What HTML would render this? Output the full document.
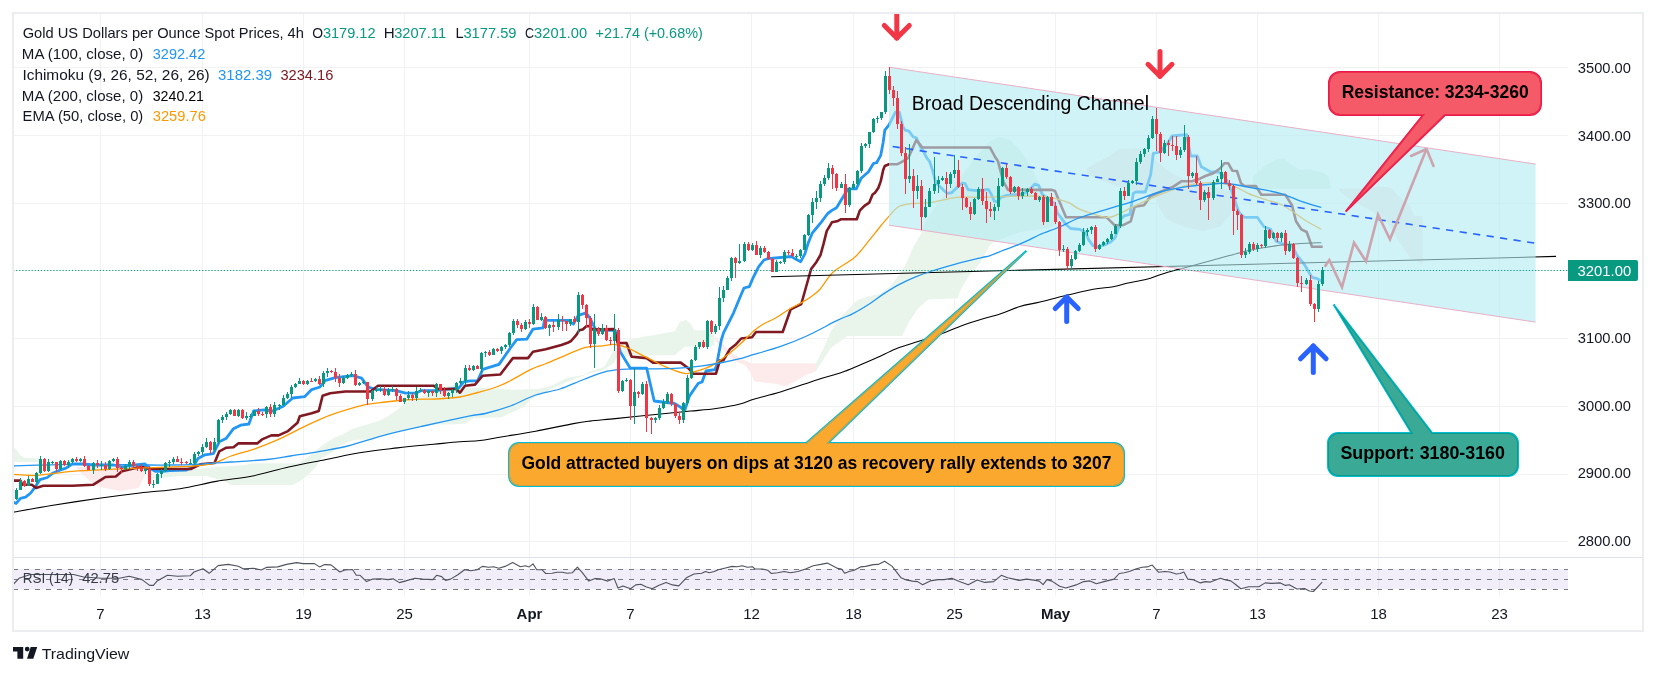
<!DOCTYPE html>
<html><head><meta charset="utf-8"><style>
html,body{margin:0;padding:0;background:#fff;width:1656px;height:675px;overflow:hidden}
svg{display:block;will-change:transform}
text{font-family:"Liberation Sans",sans-serif}
</style></head><body>
<svg width="1656" height="675" viewBox="0 0 1656 675">
<defs>
<clipPath id="mp"><rect x="13" y="13" width="1555" height="544"/></clipPath>
<clipPath id="rp"><rect x="13" y="558" width="1555" height="37"/></clipPath>
</defs>
<rect width="1656" height="675" fill="#fff"/>

<g stroke="#F2F2F3" stroke-width="1"><line x1="100.5" y1="13" x2="100.5" y2="595.5"/><line x1="202.5" y1="13" x2="202.5" y2="595.5"/><line x1="303.5" y1="13" x2="303.5" y2="595.5"/><line x1="404.5" y1="13" x2="404.5" y2="595.5"/><line x1="529.5" y1="13" x2="529.5" y2="595.5"/><line x1="630.5" y1="13" x2="630.5" y2="595.5"/><line x1="751.5" y1="13" x2="751.5" y2="595.5"/><line x1="853.5" y1="13" x2="853.5" y2="595.5"/><line x1="954.5" y1="13" x2="954.5" y2="595.5"/><line x1="1055.5" y1="13" x2="1055.5" y2="595.5"/><line x1="1156.5" y1="13" x2="1156.5" y2="595.5"/><line x1="1257.5" y1="13" x2="1257.5" y2="595.5"/><line x1="1378.5" y1="13" x2="1378.5" y2="595.5"/><line x1="1499.5" y1="13" x2="1499.5" y2="595.5"/><line x1="13" y1="67.5" x2="1568" y2="67.5"/><line x1="13" y1="135.5" x2="1568" y2="135.5"/><line x1="13" y1="203.5" x2="1568" y2="203.5"/><line x1="13" y1="270.5" x2="1568" y2="270.5"/><line x1="13" y1="338.5" x2="1568" y2="338.5"/><line x1="13" y1="406.5" x2="1568" y2="406.5"/><line x1="13" y1="474.5" x2="1568" y2="474.5"/><line x1="13" y1="541.5" x2="1568" y2="541.5"/></g>
<g clip-path="url(#mp)">
<polygon points="13.0,446.7 16.0,449.0 20.4,455.6 25.0,457.8 39.6,458.5 39.6,462.0 13.0,462.0" fill="#E9F5EB"/>
<polygon points="76.0,467.0 145.0,467.0 145.0,475.0 138.6,487.9 120.0,491.0 99.0,486.8 93.0,483.7 80.0,472.0" fill="#FDEBEB"/>
<polygon points="150.0,476.0 180.0,470.6 198.0,468.8 216.0,467.0 245.0,465.0 252.0,463.3 298.0,463.3 307.0,458.0 318.0,448.8 325.0,443.4 334.0,438.0 343.0,434.3 352.0,428.9 361.0,426.2 370.0,423.5 379.0,420.8 388.0,416.2 397.0,409.9 408.9,401.1 420.4,396.7 426.7,394.0 440.0,391.3 447.1,386.4 453.3,385.1 462.2,387.8 480.0,387.8 513.0,389.8 538.0,389.0 552.0,385.4 566.7,378.0 584.5,374.7 590.0,371.6 604.0,366.9 613.7,350.3 623.0,342.0 631.5,339.6 643.0,336.7 655.0,334.9 675.0,331.3 680.0,321.9 686.0,320.1 691.0,324.2 694.3,330.2 714.5,330.7 714.5,345.6 685.0,346.7 675.0,355.0 630.0,356.0 617.0,357.4 613.7,363.3 607.8,367.0 602.0,370.5 590.0,373.0 567.0,382.0 545.0,392.0 531.0,399.6 524.0,406.7 501.0,417.4 473.5,418.0 466.0,423.5 451.7,424.4 433.6,424.4 415.5,427.1 397.4,431.6 379.3,436.2 370.2,439.8 355.7,439.8 346.7,442.5 337.6,447.0 332.2,452.5 321.3,458.0 315.9,467.0 306.8,476.0 299.6,481.4 292.3,485.0 230.7,485.0 225.3,481.4 207.0,476.0 180.0,476.0 150.0,479.0" fill="#E9F5EB"/>
<polygon points="715.0,336.0 730.0,352.0 740.0,358.0 751.0,363.3 816.0,363.3 816.0,371.0 807.0,374.5 795.0,381.6 785.0,386.4 777.0,384.0 766.0,382.8 754.5,381.6 750.0,372.0 745.0,365.0 735.0,361.0 725.0,352.0 715.0,340.0" fill="#FDEBEB"/>
<polygon points="816.0,363.3 823.7,348.0 830.8,331.4 842.7,314.8 856.9,300.6 871.0,295.8 880.6,293.5 890.0,286.4 899.5,274.5 906.6,262.7 913.7,246.0 920.9,234.2 925.0,222.0 940.0,200.0 960.0,178.0 975.0,158.0 990.0,141.0 999.0,137.0 1010.0,140.0 1020.0,150.0 1030.0,165.0 1040.0,185.0 1048.0,205.0 1060.0,222.0 1050.0,228.0 1020.0,232.0 994.3,241.3 989.6,246.0 980.0,262.7 968.2,276.9 961.1,288.7 957.6,298.2 928.0,299.4 918.5,307.7 909.0,321.9 901.9,336.1 847.4,336.1 830.8,348.0 816.0,371.0" fill="#E9F5EB"/>
<polygon points="1087.0,168.0 1110.0,155.6 1119.0,149.3 1140.0,148.4 1149.0,151.0 1156.0,161.0 1167.0,170.0 1185.0,180.0 1200.0,185.0 1220.0,188.0 1231.0,191.0 1231.0,214.0 1220.0,226.7 1202.0,231.0 1184.0,226.7 1167.0,219.6 1160.0,209.0 1156.0,198.0 1149.0,191.0 1131.0,191.0 1110.0,184.0 1095.0,178.0 1087.0,173.0" fill="#FDEBEB"/>
<polygon points="1253.0,177.0 1262.7,167.4 1274.5,160.3 1284.0,157.9 1291.0,165.0 1300.6,169.8 1310.0,169.8 1321.9,172.1 1329.0,176.9 1331.4,188.7 1253.0,188.7" fill="#E9F5EB"/>
<polygon points="1338.9,188.5 1360.0,188.5 1379.4,186.6 1391.0,187.6 1396.7,194.3 1402.5,200.1 1410.2,205.9 1414.0,215.5 1422.7,216.5 1422.7,263.7 1410.0,257.9 1402.5,246.3 1394.8,234.8 1387.0,221.3 1373.6,211.7 1362.0,205.9 1348.5,198.2 1338.9,190.5" fill="#FDEBEB"/>
<polyline points="13.0,502.4 16.2,503.4 20.4,498.3 25.6,497.2 30.7,493.0 36.0,485.8 40.0,479.6 47.3,477.5 52.5,473.4 59.8,470.2 66.0,468.2 72.2,464.0 82.6,464.0 93.0,465.0 103.4,465.0 113.7,465.0 122.0,467.0 126.0,466.0 144.9,464.0 148.0,467.0 155.2,471.3 163.5,471.3 170.0,470.5 186.0,470.2 193.2,466.7 198.0,458.4 205.0,454.8 213.3,453.6 219.3,441.8 226.4,438.2 233.5,428.7 240.6,425.2 248.9,424.0 253.6,411.0 264.3,409.8 272.6,411.0 283.2,406.2 292.7,398.0 304.6,396.7 311.7,389.6 320.0,387.0 325.0,380.6 335.2,377.6 352.8,375.6 361.6,378.1 368.0,387.0 375.5,389.4 395.7,390.7 405.7,393.2 415.8,393.2 420.9,390.7 436.0,390.7 446.0,389.4 458.7,388.2 463.7,381.9 470.0,380.8 477.6,380.8 482.7,369.4 499.0,364.4 510.4,348.0 516.7,339.7 526.8,339.2 533.0,329.1 543.1,327.9 544.4,320.3 568.3,320.3 573.4,324.1 578.4,315.3 586.0,312.8 589.8,317.8 596.0,330.4 615.2,330.4 620.2,351.8 630.3,368.2 646.7,368.2 654.2,401.0 674.4,403.5 680.7,407.2 684.5,411.0 689.5,395.9 698.3,383.3 702.1,382.0 706.0,371.0 714.8,369.6 716.5,366.0 718.0,357.8 721.3,340.0 723.5,332.9 733.6,312.8 740.0,297.3 744.0,288.0 749.3,286.7 753.3,277.3 758.7,266.7 764.0,260.0 768.0,258.7 791.4,256.5 795.6,259.1 800.7,261.7 804.9,253.9 808.0,243.6 812.2,233.2 817.3,227.0 821.5,221.8 827.7,213.5 831.9,210.4 836.5,207.8 838.1,205.2 841.2,200.0 848.1,188.8 856.3,188.8 861.2,178.2 868.5,171.7 873.4,163.5 876.6,162.7 880.7,155.4 883.2,142.3 884.8,130.1 888.9,125.2 895.4,112.2 899.4,112.2 902.7,126.1 905.1,130.1 908.9,131.1 913.3,137.0 916.3,137.8 920.7,147.4 923.7,151.9 926.7,157.8 929.6,161.5 932.6,170.4 935.6,182.2 938.5,185.2 944.4,191.1 947.4,193.3 951.9,192.6 957.8,186.7 962.2,183.0 965.2,183.7 968.1,189.6 974.1,190.4 980.0,190.4 984.0,190.0 988.3,189.3 991.3,194.4 994.3,201.1 997.2,201.9 1000.9,197.4 1007.6,195.2 1019.4,194.4 1025.4,193.0 1031.3,187.8 1035.0,184.1 1038.7,185.6 1042.4,194.4 1046.1,197.4 1050.6,201.1 1054.4,203.3 1057.4,213.0 1061.9,218.9 1066.3,224.8 1070.7,228.5 1079.6,229.3 1085.6,232.2 1088.5,239.6 1093.0,245.6 1097.4,247.0 1101.9,245.6 1106.3,244.1 1110.7,241.9 1115.2,237.4 1118.1,229.3 1121.1,218.9 1124.1,215.9 1130.0,214.4 1133.3,193.3 1136.0,192.0 1145.3,192.0 1150.7,174.7 1153.3,153.3 1160.0,152.0 1168.0,142.7 1172.0,136.0 1186.7,134.7 1190.7,156.0 1197.3,156.0 1201.3,166.7 1210.7,172.0 1218.7,172.0 1225.3,177.3 1232.0,192.0 1238.7,212.0 1244.0,217.3 1257.3,217.3 1264.0,226.7 1270.7,229.3 1276.0,241.3 1282.7,244.0 1292.0,245.3 1297.3,256.0 1304.0,264.0 1312.0,277.3 1317.3,278.7 1322.0,281.3" fill="none" stroke="#2196F3" stroke-width="2.8" stroke-linejoin="round"/>
<polyline points="13.0,480.6 20.4,480.6 22.4,484.8 31.8,484.8 36.0,487.9 43.2,485.8 72.2,485.8 93.0,484.8 101.3,479.6 105.4,477.0 115.8,476.5 122.0,471.3 134.5,468.2 142.8,467.1 148.0,468.8 190.8,469.0 200.3,464.3 214.5,463.0 219.3,451.3 226.4,447.7 233.5,447.2 238.2,443.4 257.2,443.4 262.0,439.4 271.4,435.4 278.5,435.4 288.0,431.1 297.5,422.8 299.8,416.2 311.7,413.3 318.8,410.9 322.6,395.7 330.2,393.2 345.3,391.5 370.5,391.5 378.0,385.7 433.5,385.7 438.5,389.0 456.1,389.0 460.0,392.7 465.0,385.8 475.0,384.6 482.7,375.7 500.3,374.5 512.9,358.1 528.0,358.1 533.0,351.8 545.7,349.3 561.4,345.0 567.6,342.8 571.1,341.0 576.4,334.8 579.1,330.3 582.7,329.4 586.3,326.3 590.0,326.0 592.0,329.5 614.0,329.1 617.7,343.0 626.5,343.0 631.6,356.8 646.7,358.1 653.0,362.6 680.7,362.6 688.3,368.2 693.3,373.7 716.0,373.7 719.8,360.6 723.5,360.1 729.8,349.3 736.1,344.2 741.2,338.5 752.0,337.3 756.0,332.0 782.7,332.0 790.7,309.3 801.3,304.0 811.1,269.0 816.3,262.2 820.5,255.0 823.6,243.6 826.7,231.1 831.9,222.3 837.0,221.3 841.2,219.2 856.8,219.2 859.9,210.4 864.4,205.9 869.3,202.6 872.6,194.5 875.0,192.8 878.3,188.0 880.7,181.4 883.2,170.0 884.8,166.0 888.9,164.3 897.0,164.3 901.9,161.9 908.4,157.8 916.3,140.0 922.2,147.4 990.0,147.5 995.3,157.3 998.0,161.3 1003.3,181.3 1008.0,189.9 1052.0,189.9 1055.0,191.0 1066.0,217.3 1106.7,217.3 1114.7,225.3 1122.7,225.3 1130.7,221.3 1134.7,206.7 1144.0,205.3 1150.7,196.0 1160.0,192.0 1173.3,186.7 1181.3,181.3 1192.0,181.3 1200.0,178.7 1205.3,176.0 1213.3,173.3 1220.0,168.5 1224.3,163.3 1228.3,163.3 1232.3,170.7 1237.0,171.0 1241.0,183.3 1244.3,186.0 1256.0,186.1 1261.3,194.7 1285.3,194.7 1292.0,205.3 1296.0,221.3 1301.3,229.3 1306.7,232.0 1312.0,246.7 1322.7,246.7" fill="none" stroke="#801922" stroke-width="2.6" stroke-linejoin="round"/>
<path d="M13.0,474.4 C17.0,474.6 27.2,475.9 37.0,475.4 C46.8,474.9 59.2,472.3 72.0,471.3 C84.8,470.3 102.6,469.7 113.7,469.2 C124.8,468.7 129.2,468.6 138.6,468.2 C148.0,467.8 160.9,467.4 170.0,467.0 C179.1,466.6 185.8,466.7 193.2,466.0 C200.6,465.3 208.2,464.7 214.5,463.0 C220.8,461.3 224.3,458.4 231.0,456.0 C237.7,453.6 246.9,451.7 254.8,448.9 C262.7,446.1 270.6,442.9 278.5,439.4 C286.4,435.8 295.3,431.0 302.2,427.6 C309.1,424.2 314.5,421.7 320.0,419.3 C325.5,416.9 328.5,415.6 335.2,413.4 C341.9,411.1 352.0,407.7 360.4,405.8 C368.8,403.9 377.2,403.1 385.6,402.0 C394.0,400.9 402.4,400.0 410.8,399.5 C419.2,399.0 427.8,399.4 436.0,399.0 C444.2,398.6 453.0,398.1 460.0,397.0 C467.0,395.9 472.0,394.1 477.8,392.5 C483.6,390.9 489.7,389.4 495.0,387.5 C500.3,385.6 503.8,384.0 509.8,381.0 C515.8,378.0 525.1,372.2 531.0,369.4 C536.9,366.6 540.5,365.8 545.0,364.0 C549.5,362.2 551.2,361.4 557.8,358.7 C564.4,356.0 577.1,349.8 584.5,347.7 C591.9,345.6 597.3,346.4 602.3,345.9 C607.3,345.4 610.5,344.1 614.7,344.5 C619.0,344.9 623.5,346.4 627.8,348.0 C632.1,349.6 636.2,352.2 640.4,354.3 C644.6,356.4 648.8,358.5 653.0,360.6 C657.2,362.7 660.6,364.8 665.6,366.9 C670.6,369.0 679.0,372.2 683.2,373.2 C687.4,374.2 687.0,373.5 690.8,372.7 C694.6,371.9 701.8,369.8 706.0,368.2 C710.2,366.6 711.8,365.8 716.0,363.1 C720.2,360.4 727.0,355.1 731.0,352.0 C735.0,348.9 737.0,346.9 740.0,344.2 C743.0,341.5 746.7,337.9 748.9,335.8 C751.1,333.7 751.1,333.2 753.3,331.3 C755.5,329.4 758.5,326.9 762.2,324.7 C765.9,322.5 771.3,320.4 775.6,318.0 C779.9,315.6 783.9,312.4 788.0,310.0 C792.1,307.6 796.3,305.6 800.0,303.5 C803.7,301.4 806.7,299.9 810.0,297.5 C813.3,295.1 816.1,293.6 820.0,289.3 C823.9,285.1 827.5,277.3 833.3,272.0 C839.1,266.7 848.8,262.5 854.7,257.3 C860.6,252.1 864.6,245.9 868.9,240.7 C873.2,235.5 877.2,230.2 880.7,226.0 C884.2,221.8 886.6,218.8 889.6,215.6 C892.6,212.4 895.0,208.7 898.5,206.7 C902.0,204.7 905.1,204.4 910.4,203.7 C915.6,203.0 922.3,203.8 930.0,202.7 C937.7,201.6 947.8,198.2 956.7,197.3 C965.6,196.4 972.2,197.5 983.3,197.3 C994.4,197.1 1012.2,196.0 1023.3,196.0 C1034.4,196.0 1042.4,196.2 1050.0,197.3 C1057.6,198.4 1063.7,200.7 1068.7,202.7 C1073.7,204.7 1073.7,206.9 1080.0,209.3 C1086.3,211.7 1100.0,216.6 1106.7,217.3 C1113.4,218.0 1115.6,215.1 1120.0,213.3 C1124.4,211.5 1126.6,209.8 1133.3,206.7 C1140.0,203.6 1151.1,198.3 1160.0,194.7 C1168.9,191.1 1177.8,187.3 1186.7,185.3 C1195.6,183.3 1205.3,182.5 1213.3,182.7 C1221.3,182.9 1228.9,184.9 1234.7,186.7 C1240.5,188.5 1242.7,191.1 1248.0,193.3 C1253.3,195.5 1261.4,198.2 1266.7,200.0 C1272.0,201.8 1275.6,202.0 1280.0,204.0 C1284.4,206.0 1288.8,209.1 1293.3,212.0 C1297.8,214.9 1302.0,218.4 1306.7,221.3 C1311.4,224.2 1318.9,228.0 1321.3,229.3" fill="none" stroke="#FF9800" stroke-width="1.3" stroke-linejoin="round"/>
<path d="M13.1,512.2 C19.5,511.1 37.1,507.8 51.5,505.5 C65.8,503.2 84.5,500.4 99.2,498.3 C114.0,496.2 126.5,494.6 140.0,493.0 C153.5,491.4 167.3,490.6 180.0,488.7 C192.7,486.8 204.1,483.5 216.2,481.4 C228.3,479.3 240.4,478.4 252.5,476.0 C264.6,473.6 276.6,469.7 288.7,467.0 C300.8,464.3 312.9,462.1 325.0,459.7 C337.1,457.3 349.1,454.5 361.2,452.5 C373.3,450.5 385.3,449.3 397.4,447.9 C409.5,446.5 423.2,445.3 433.6,444.3 C444.0,443.3 452.3,442.4 460.0,441.8 C467.7,441.2 473.7,441.2 480.0,440.5 C486.3,439.8 488.5,439.1 497.8,437.5 C507.1,435.9 523.0,433.5 535.6,431.2 C548.2,428.9 564.3,425.3 573.4,423.6 C582.5,421.9 583.0,421.9 590.0,421.1 C597.0,420.3 606.8,419.5 615.2,418.6 C623.6,417.8 632.0,416.9 640.4,416.0 C648.8,415.1 657.2,414.3 665.6,413.5 C674.0,412.7 682.4,411.8 690.8,411.0 C699.2,410.2 707.8,409.7 716.0,408.5 C724.2,407.3 733.6,405.6 740.0,404.0 C746.4,402.4 747.7,401.0 754.6,399.0 C761.5,397.0 770.7,395.0 781.2,391.8 C791.7,388.6 807.4,382.9 817.4,379.7 C827.4,376.5 834.4,375.0 841.5,372.5 C848.6,370.0 854.0,367.4 860.0,364.9 C866.0,362.4 871.9,360.0 877.8,357.3 C883.7,354.6 889.7,351.3 895.6,348.9 C901.5,346.5 907.4,345.0 913.3,343.1 C919.2,341.2 925.8,339.1 931.1,337.3 C936.4,335.5 939.8,334.5 945.0,332.5 C950.2,330.5 956.3,327.7 962.3,325.5 C968.2,323.3 974.4,321.4 980.7,319.5 C987.0,317.6 993.5,316.2 1000.0,314.0 C1006.5,311.8 1013.3,308.5 1020.0,306.5 C1026.7,304.5 1032.2,303.9 1040.0,302.0 C1047.8,300.1 1057.8,297.4 1066.7,295.3 C1075.6,293.2 1085.5,290.7 1093.3,289.3 C1101.1,287.9 1107.7,287.7 1113.3,286.7 C1118.9,285.7 1121.1,284.5 1126.7,283.3 C1132.3,282.1 1141.2,280.7 1146.7,279.3 C1152.2,277.9 1155.6,276.1 1160.0,274.7 C1164.4,273.3 1168.8,271.9 1173.3,270.7 C1177.8,269.5 1180.0,269.1 1186.7,267.3 C1193.4,265.5 1204.4,262.4 1213.3,260.0 C1222.2,257.6 1233.3,254.4 1240.0,252.7 C1246.7,250.9 1246.6,250.7 1253.3,249.5 C1260.0,248.3 1271.1,246.4 1280.0,245.3 C1288.9,244.2 1299.8,243.6 1306.7,243.2 C1313.6,242.8 1318.9,242.8 1321.3,242.7" fill="none" stroke="#000" stroke-width="1.1" stroke-linejoin="round"/>
<line x1="771.1" y1="276.7" x2="1556" y2="256.4" stroke="#000" stroke-width="1.1"/>
<polygon points="889.0,67.2 1535.6,164.1 1535.6,322.1 889.0,225.2" fill="#B2EBF2" fill-opacity="0.62"/>
<line x1="889" y1="67.2" x2="1535.6" y2="164.1" stroke="#E9AFC6" stroke-width="1"/>
<line x1="889" y1="225.2" x2="1535.6" y2="322.1" stroke="#E9AFC6" stroke-width="1"/>
<line x1="889" y1="146" x2="1535.6" y2="243.2" stroke="#2962FF" stroke-width="1.6" stroke-dasharray="7.2 6.45" stroke-dashoffset="9.95"/>
<path d="M13.0,466.0 C22.8,465.7 49.7,464.6 72.0,464.4 C94.3,464.2 130.7,464.9 147.0,465.0 C163.3,465.1 161.9,465.1 170.0,465.0 C178.1,464.9 185.4,464.8 195.6,464.3 C205.8,463.8 219.2,462.8 231.0,462.0 C242.8,461.2 256.8,460.5 266.7,459.5 C276.6,458.5 281.5,457.4 290.4,456.0 C299.3,454.6 310.4,453.0 320.0,451.3 C329.6,449.6 336.9,448.8 347.8,446.0 C358.7,443.2 373.0,438.1 385.6,434.8 C398.2,431.5 409.3,429.1 423.4,426.0 C437.5,422.9 459.7,418.0 470.0,415.9 C480.3,413.8 478.5,415.1 485.2,413.5 C491.9,411.9 502.0,409.1 510.4,406.0 C518.8,402.9 527.3,397.8 535.6,395.0 C543.9,392.2 552.0,391.6 560.0,389.0 C568.0,386.4 575.8,382.5 583.7,379.5 C591.6,376.5 599.5,373.0 607.4,371.2 C615.3,369.4 623.1,369.3 631.0,368.9 C638.9,368.5 646.9,369.0 654.8,368.9 C662.7,368.8 670.6,368.7 678.5,368.2 C686.4,367.7 695.3,366.7 702.2,365.8 C709.1,364.9 713.7,364.2 720.0,363.0 C726.3,361.8 735.0,359.9 740.0,358.7 C745.0,357.5 743.3,357.6 750.0,355.6 C756.7,353.6 770.5,350.0 780.0,346.7 C789.5,343.4 797.1,340.4 806.7,336.0 C816.3,331.6 830.1,323.9 837.8,320.2 C845.5,316.5 847.7,316.3 852.9,313.6 C858.1,310.9 863.7,307.5 868.9,304.2 C874.1,300.9 878.8,296.9 884.0,293.6 C889.2,290.3 894.8,286.9 900.0,284.2 C905.2,281.5 909.9,279.3 915.0,277.2 C920.1,275.1 923.6,273.7 930.4,271.5 C937.1,269.3 947.1,266.4 955.5,264.1 C963.9,261.8 974.9,259.2 980.7,257.8 C986.5,256.4 986.3,256.9 990.1,255.6 C993.9,254.3 999.1,252.0 1003.7,250.2 C1008.3,248.4 1013.9,246.5 1017.9,244.9 C1021.9,243.3 1023.7,242.4 1027.4,240.7 C1031.1,239.0 1034.7,236.8 1040.0,234.5 C1045.3,232.2 1052.7,229.8 1059.4,227.0 C1066.1,224.2 1072.1,220.4 1080.0,217.5 C1087.9,214.6 1097.8,212.0 1106.7,209.3 C1115.6,206.6 1124.4,204.2 1133.3,201.3 C1142.2,198.4 1151.1,194.4 1160.0,192.0 C1168.9,189.6 1177.8,188.0 1186.7,186.7 C1195.6,185.4 1206.6,184.5 1213.3,184.0 C1220.0,183.5 1220.0,182.8 1226.7,183.5 C1233.4,184.2 1244.4,186.4 1253.3,188.0 C1262.2,189.6 1272.0,191.1 1280.0,193.3 C1288.0,195.5 1294.4,198.9 1301.3,201.3 C1308.2,203.7 1318.0,206.5 1321.3,207.5" fill="none" stroke="#2196F3" stroke-width="1.3" stroke-linejoin="round"/>
<rect x="16" y="488" width="1" height="12" fill="#089981"/><rect x="15" y="490" width="3" height="9" fill="#089981"/><rect x="20" y="478" width="1" height="12" fill="#089981"/><rect x="19" y="481" width="3" height="9" fill="#089981"/><rect x="24" y="480" width="1" height="7" fill="#F23645"/><rect x="23" y="481" width="3" height="5" fill="#F23645"/><rect x="28" y="476" width="1" height="10" fill="#089981"/><rect x="27" y="479" width="3" height="7" fill="#089981"/><rect x="32" y="478" width="1" height="4" fill="#F23645"/><rect x="31" y="479" width="3" height="3" fill="#F23645"/><rect x="36" y="472" width="1" height="13" fill="#089981"/><rect x="35" y="473" width="3" height="9" fill="#089981"/><rect x="40" y="456" width="1" height="18" fill="#089981"/><rect x="39" y="459" width="3" height="14" fill="#089981"/><rect x="44" y="458" width="1" height="14" fill="#F23645"/><rect x="43" y="459" width="3" height="12" fill="#F23645"/><rect x="48" y="459" width="1" height="13" fill="#089981"/><rect x="47" y="462" width="3" height="9" fill="#089981"/><rect x="52" y="461" width="1" height="3" fill="#089981"/><rect x="51" y="462" width="3" height="1" fill="#089981"/><rect x="56" y="462" width="1" height="10" fill="#F23645"/><rect x="55" y="462" width="3" height="7" fill="#F23645"/><rect x="60" y="460" width="1" height="10" fill="#089981"/><rect x="59" y="461" width="3" height="8" fill="#089981"/><rect x="64" y="460" width="1" height="6" fill="#F23645"/><rect x="63" y="461" width="3" height="4" fill="#F23645"/><rect x="68" y="460" width="1" height="8" fill="#089981"/><rect x="67" y="462" width="3" height="3" fill="#089981"/><rect x="72" y="458" width="1" height="5" fill="#089981"/><rect x="71" y="459" width="3" height="3" fill="#089981"/><rect x="76" y="457" width="1" height="5" fill="#F23645"/><rect x="75" y="459" width="3" height="2" fill="#F23645"/><rect x="80" y="458" width="1" height="4" fill="#089981"/><rect x="79" y="459" width="3" height="2" fill="#089981"/><rect x="84" y="456" width="1" height="11" fill="#F23645"/><rect x="83" y="459" width="3" height="7" fill="#F23645"/><rect x="88" y="465" width="1" height="5" fill="#F23645"/><rect x="87" y="466" width="3" height="4" fill="#F23645"/><rect x="93" y="462" width="1" height="12" fill="#089981"/><rect x="92" y="463" width="3" height="7" fill="#089981"/><rect x="97" y="460" width="1" height="8" fill="#F23645"/><rect x="96" y="463" width="3" height="2" fill="#F23645"/><rect x="101" y="461" width="1" height="9" fill="#089981"/><rect x="100" y="465" width="3" height="1" fill="#089981"/><rect x="105" y="462" width="1" height="9" fill="#F23645"/><rect x="104" y="465" width="3" height="4" fill="#F23645"/><rect x="109" y="460" width="1" height="10" fill="#089981"/><rect x="108" y="461" width="3" height="8" fill="#089981"/><rect x="113" y="458" width="1" height="4" fill="#089981"/><rect x="112" y="459" width="3" height="2" fill="#089981"/><rect x="117" y="457" width="1" height="15" fill="#F23645"/><rect x="116" y="459" width="3" height="9" fill="#F23645"/><rect x="121" y="466" width="1" height="7" fill="#F23645"/><rect x="120" y="468" width="3" height="1" fill="#F23645"/><rect x="125" y="464" width="1" height="6" fill="#089981"/><rect x="124" y="466" width="3" height="3" fill="#089981"/><rect x="129" y="460" width="1" height="9" fill="#089981"/><rect x="128" y="462" width="3" height="4" fill="#089981"/><rect x="133" y="460" width="1" height="8" fill="#F23645"/><rect x="132" y="462" width="3" height="4" fill="#F23645"/><rect x="137" y="465" width="1" height="6" fill="#F23645"/><rect x="136" y="466" width="3" height="1" fill="#F23645"/><rect x="141" y="464" width="1" height="8" fill="#F23645"/><rect x="140" y="467" width="3" height="4" fill="#F23645"/><rect x="145" y="468" width="1" height="6" fill="#089981"/><rect x="144" y="469" width="3" height="2" fill="#089981"/><rect x="149" y="466" width="1" height="20" fill="#F23645"/><rect x="148" y="469" width="3" height="15" fill="#F23645"/><rect x="153" y="480" width="1" height="8" fill="#089981"/><rect x="152" y="484" width="3" height="1" fill="#089981"/><rect x="157" y="473" width="1" height="11" fill="#089981"/><rect x="156" y="474" width="3" height="10" fill="#089981"/><rect x="161" y="469" width="1" height="9" fill="#089981"/><rect x="160" y="471" width="3" height="3" fill="#089981"/><rect x="165" y="462" width="1" height="10" fill="#089981"/><rect x="164" y="463" width="3" height="8" fill="#089981"/><rect x="169" y="460" width="1" height="7" fill="#089981"/><rect x="168" y="462" width="3" height="1" fill="#089981"/><rect x="173" y="457" width="1" height="7" fill="#089981"/><rect x="172" y="459" width="3" height="3" fill="#089981"/><rect x="177" y="456" width="1" height="6" fill="#F23645"/><rect x="176" y="459" width="3" height="3" fill="#F23645"/><rect x="181" y="458" width="1" height="7" fill="#F23645"/><rect x="180" y="462" width="3" height="1" fill="#F23645"/><rect x="186" y="461" width="1" height="3" fill="#F23645"/><rect x="185" y="462" width="3" height="1" fill="#F23645"/><rect x="190" y="459" width="1" height="5" fill="#089981"/><rect x="189" y="463" width="3" height="1" fill="#089981"/><rect x="194" y="452" width="1" height="13" fill="#089981"/><rect x="193" y="454" width="3" height="9" fill="#089981"/><rect x="198" y="451" width="1" height="5" fill="#089981"/><rect x="197" y="452" width="3" height="2" fill="#089981"/><rect x="202" y="444" width="1" height="11" fill="#089981"/><rect x="201" y="447" width="3" height="5" fill="#089981"/><rect x="206" y="438" width="1" height="10" fill="#089981"/><rect x="205" y="442" width="3" height="5" fill="#089981"/><rect x="210" y="441" width="1" height="13" fill="#F23645"/><rect x="209" y="442" width="3" height="8" fill="#F23645"/><rect x="214" y="438" width="1" height="14" fill="#089981"/><rect x="213" y="442" width="3" height="8" fill="#089981"/><rect x="218" y="419" width="1" height="25" fill="#089981"/><rect x="217" y="420" width="3" height="22" fill="#089981"/><rect x="222" y="415" width="1" height="8" fill="#089981"/><rect x="221" y="417" width="3" height="3" fill="#089981"/><rect x="226" y="412" width="1" height="8" fill="#089981"/><rect x="225" y="414" width="3" height="3" fill="#089981"/><rect x="230" y="409" width="1" height="6" fill="#089981"/><rect x="229" y="410" width="3" height="4" fill="#089981"/><rect x="234" y="409" width="1" height="7" fill="#F23645"/><rect x="233" y="410" width="3" height="6" fill="#F23645"/><rect x="238" y="409" width="1" height="8" fill="#089981"/><rect x="237" y="410" width="3" height="6" fill="#089981"/><rect x="242" y="409" width="1" height="10" fill="#F23645"/><rect x="241" y="410" width="3" height="8" fill="#F23645"/><rect x="246" y="412" width="1" height="8" fill="#089981"/><rect x="245" y="416" width="3" height="2" fill="#089981"/><rect x="250" y="414" width="1" height="4" fill="#089981"/><rect x="249" y="416" width="3" height="1" fill="#089981"/><rect x="254" y="410" width="1" height="6" fill="#089981"/><rect x="253" y="411" width="3" height="5" fill="#089981"/><rect x="258" y="408" width="1" height="8" fill="#F23645"/><rect x="257" y="411" width="3" height="3" fill="#F23645"/><rect x="262" y="412" width="1" height="4" fill="#F23645"/><rect x="261" y="414" width="3" height="1" fill="#F23645"/><rect x="266" y="406" width="1" height="12" fill="#089981"/><rect x="265" y="407" width="3" height="7" fill="#089981"/><rect x="270" y="404" width="1" height="13" fill="#F23645"/><rect x="269" y="407" width="3" height="7" fill="#F23645"/><rect x="274" y="402" width="1" height="15" fill="#089981"/><rect x="273" y="405" width="3" height="9" fill="#089981"/><rect x="279" y="404" width="1" height="6" fill="#089981"/><rect x="278" y="405" width="3" height="1" fill="#089981"/><rect x="283" y="395" width="1" height="11" fill="#089981"/><rect x="282" y="398" width="3" height="7" fill="#089981"/><rect x="287" y="392" width="1" height="7" fill="#089981"/><rect x="286" y="394" width="3" height="4" fill="#089981"/><rect x="291" y="385" width="1" height="13" fill="#089981"/><rect x="290" y="387" width="3" height="7" fill="#089981"/><rect x="295" y="383" width="1" height="5" fill="#089981"/><rect x="294" y="384" width="3" height="3" fill="#089981"/><rect x="299" y="378" width="1" height="6" fill="#089981"/><rect x="298" y="381" width="3" height="3" fill="#089981"/><rect x="303" y="380" width="1" height="5" fill="#F23645"/><rect x="302" y="381" width="3" height="3" fill="#F23645"/><rect x="307" y="380" width="1" height="5" fill="#089981"/><rect x="306" y="381" width="3" height="3" fill="#089981"/><rect x="311" y="378" width="1" height="4" fill="#F23645"/><rect x="310" y="381" width="3" height="1" fill="#F23645"/><rect x="315" y="378" width="1" height="4" fill="#089981"/><rect x="314" y="379" width="3" height="2" fill="#089981"/><rect x="319" y="376" width="1" height="9" fill="#F23645"/><rect x="318" y="379" width="3" height="5" fill="#F23645"/><rect x="323" y="371" width="1" height="16" fill="#089981"/><rect x="322" y="373" width="3" height="11" fill="#089981"/><rect x="327" y="368" width="1" height="9" fill="#089981"/><rect x="326" y="371" width="3" height="2" fill="#089981"/><rect x="331" y="370" width="1" height="3" fill="#F23645"/><rect x="330" y="371" width="3" height="1" fill="#F23645"/><rect x="335" y="368" width="1" height="14" fill="#F23645"/><rect x="334" y="372" width="3" height="6" fill="#F23645"/><rect x="339" y="374" width="1" height="13" fill="#F23645"/><rect x="338" y="378" width="3" height="5" fill="#F23645"/><rect x="343" y="376" width="1" height="8" fill="#089981"/><rect x="342" y="378" width="3" height="5" fill="#089981"/><rect x="347" y="374" width="1" height="5" fill="#089981"/><rect x="346" y="375" width="3" height="3" fill="#089981"/><rect x="351" y="372" width="1" height="5" fill="#089981"/><rect x="350" y="374" width="3" height="1" fill="#089981"/><rect x="355" y="370" width="1" height="16" fill="#F23645"/><rect x="354" y="374" width="3" height="11" fill="#F23645"/><rect x="359" y="382" width="1" height="4" fill="#089981"/><rect x="358" y="383" width="3" height="2" fill="#089981"/><rect x="363" y="380" width="1" height="4" fill="#089981"/><rect x="362" y="382" width="3" height="1" fill="#089981"/><rect x="367" y="382" width="1" height="23" fill="#F23645"/><rect x="366" y="382" width="3" height="17" fill="#F23645"/><rect x="372" y="390" width="1" height="11" fill="#089981"/><rect x="371" y="391" width="3" height="8" fill="#089981"/><rect x="376" y="387" width="1" height="5" fill="#089981"/><rect x="375" y="390" width="3" height="1" fill="#089981"/><rect x="380" y="386" width="1" height="6" fill="#089981"/><rect x="379" y="389" width="3" height="1" fill="#089981"/><rect x="384" y="386" width="1" height="10" fill="#F23645"/><rect x="383" y="389" width="3" height="6" fill="#F23645"/><rect x="388" y="388" width="1" height="8" fill="#089981"/><rect x="387" y="390" width="3" height="5" fill="#089981"/><rect x="392" y="386" width="1" height="6" fill="#089981"/><rect x="391" y="389" width="3" height="1" fill="#089981"/><rect x="396" y="388" width="1" height="12" fill="#F23645"/><rect x="395" y="389" width="3" height="7" fill="#F23645"/><rect x="400" y="394" width="1" height="8" fill="#F23645"/><rect x="399" y="396" width="3" height="6" fill="#F23645"/><rect x="404" y="398" width="1" height="6" fill="#089981"/><rect x="403" y="398" width="3" height="4" fill="#089981"/><rect x="408" y="391" width="1" height="9" fill="#089981"/><rect x="407" y="395" width="3" height="3" fill="#089981"/><rect x="412" y="393" width="1" height="8" fill="#F23645"/><rect x="411" y="395" width="3" height="3" fill="#F23645"/><rect x="416" y="387" width="1" height="14" fill="#089981"/><rect x="415" y="391" width="3" height="7" fill="#089981"/><rect x="420" y="388" width="1" height="4" fill="#089981"/><rect x="419" y="390" width="3" height="1" fill="#089981"/><rect x="424" y="389" width="1" height="5" fill="#F23645"/><rect x="423" y="390" width="3" height="3" fill="#F23645"/><rect x="428" y="390" width="1" height="7" fill="#089981"/><rect x="427" y="391" width="3" height="2" fill="#089981"/><rect x="432" y="390" width="1" height="6" fill="#F23645"/><rect x="431" y="391" width="3" height="2" fill="#F23645"/><rect x="436" y="383" width="1" height="14" fill="#089981"/><rect x="435" y="384" width="3" height="9" fill="#089981"/><rect x="440" y="384" width="1" height="10" fill="#F23645"/><rect x="439" y="384" width="3" height="6" fill="#F23645"/><rect x="444" y="387" width="1" height="10" fill="#F23645"/><rect x="443" y="390" width="3" height="6" fill="#F23645"/><rect x="448" y="392" width="1" height="7" fill="#089981"/><rect x="447" y="393" width="3" height="3" fill="#089981"/><rect x="452" y="389" width="1" height="8" fill="#089981"/><rect x="451" y="390" width="3" height="3" fill="#089981"/><rect x="456" y="382" width="1" height="11" fill="#089981"/><rect x="455" y="383" width="3" height="7" fill="#089981"/><rect x="460" y="378" width="1" height="6" fill="#089981"/><rect x="459" y="381" width="3" height="2" fill="#089981"/><rect x="465" y="365" width="1" height="20" fill="#089981"/><rect x="464" y="368" width="3" height="13" fill="#089981"/><rect x="469" y="365" width="1" height="6" fill="#F23645"/><rect x="468" y="368" width="3" height="2" fill="#F23645"/><rect x="473" y="365" width="1" height="6" fill="#089981"/><rect x="472" y="366" width="3" height="4" fill="#089981"/><rect x="477" y="365" width="1" height="4" fill="#F23645"/><rect x="476" y="366" width="3" height="3" fill="#F23645"/><rect x="481" y="352" width="1" height="21" fill="#089981"/><rect x="480" y="353" width="3" height="16" fill="#089981"/><rect x="485" y="351" width="1" height="6" fill="#089981"/><rect x="484" y="352" width="3" height="1" fill="#089981"/><rect x="489" y="350" width="1" height="6" fill="#F23645"/><rect x="488" y="352" width="3" height="3" fill="#F23645"/><rect x="493" y="348" width="1" height="7" fill="#089981"/><rect x="492" y="349" width="3" height="6" fill="#089981"/><rect x="497" y="348" width="1" height="4" fill="#F23645"/><rect x="496" y="349" width="3" height="2" fill="#F23645"/><rect x="501" y="346" width="1" height="8" fill="#089981"/><rect x="500" y="347" width="3" height="4" fill="#089981"/><rect x="505" y="344" width="1" height="5" fill="#089981"/><rect x="504" y="345" width="3" height="2" fill="#089981"/><rect x="509" y="332" width="1" height="15" fill="#089981"/><rect x="508" y="333" width="3" height="12" fill="#089981"/><rect x="513" y="319" width="1" height="16" fill="#089981"/><rect x="512" y="321" width="3" height="12" fill="#089981"/><rect x="517" y="319" width="1" height="9" fill="#F23645"/><rect x="516" y="321" width="3" height="4" fill="#F23645"/><rect x="521" y="323" width="1" height="9" fill="#F23645"/><rect x="520" y="325" width="3" height="4" fill="#F23645"/><rect x="525" y="320" width="1" height="10" fill="#089981"/><rect x="524" y="322" width="3" height="7" fill="#089981"/><rect x="529" y="319" width="1" height="9" fill="#F23645"/><rect x="528" y="322" width="3" height="2" fill="#F23645"/><rect x="533" y="304" width="1" height="21" fill="#089981"/><rect x="532" y="307" width="3" height="17" fill="#089981"/><rect x="537" y="306" width="1" height="14" fill="#F23645"/><rect x="536" y="307" width="3" height="13" fill="#F23645"/><rect x="541" y="313" width="1" height="8" fill="#089981"/><rect x="540" y="317" width="3" height="3" fill="#089981"/><rect x="545" y="316" width="1" height="13" fill="#F23645"/><rect x="544" y="317" width="3" height="11" fill="#F23645"/><rect x="549" y="324" width="1" height="12" fill="#089981"/><rect x="548" y="325" width="3" height="3" fill="#089981"/><rect x="553" y="321" width="1" height="11" fill="#F23645"/><rect x="552" y="325" width="3" height="2" fill="#F23645"/><rect x="558" y="314" width="1" height="16" fill="#089981"/><rect x="557" y="320" width="3" height="7" fill="#089981"/><rect x="562" y="316" width="1" height="15" fill="#F23645"/><rect x="561" y="320" width="3" height="1" fill="#F23645"/><rect x="566" y="321" width="1" height="10" fill="#F23645"/><rect x="565" y="321" width="3" height="3" fill="#F23645"/><rect x="570" y="319" width="1" height="7" fill="#089981"/><rect x="569" y="319" width="3" height="5" fill="#089981"/><rect x="574" y="316" width="1" height="8" fill="#F23645"/><rect x="573" y="319" width="3" height="3" fill="#F23645"/><rect x="578" y="292" width="1" height="41" fill="#089981"/><rect x="577" y="295" width="3" height="27" fill="#089981"/><rect x="582" y="294" width="1" height="15" fill="#F23645"/><rect x="581" y="295" width="3" height="10" fill="#F23645"/><rect x="586" y="304" width="1" height="23" fill="#F23645"/><rect x="585" y="305" width="3" height="13" fill="#F23645"/><rect x="590" y="316" width="1" height="32" fill="#F23645"/><rect x="589" y="318" width="3" height="26" fill="#F23645"/><rect x="594" y="314" width="1" height="54" fill="#089981"/><rect x="593" y="329" width="3" height="15" fill="#089981"/><rect x="598" y="327" width="1" height="9" fill="#F23645"/><rect x="597" y="329" width="3" height="5" fill="#F23645"/><rect x="602" y="324" width="1" height="11" fill="#089981"/><rect x="601" y="328" width="3" height="6" fill="#089981"/><rect x="606" y="325" width="1" height="16" fill="#F23645"/><rect x="605" y="328" width="3" height="12" fill="#F23645"/><rect x="610" y="337" width="1" height="8" fill="#F23645"/><rect x="609" y="340" width="3" height="1" fill="#F23645"/><rect x="614" y="314" width="1" height="37" fill="#089981"/><rect x="613" y="330" width="3" height="11" fill="#089981"/><rect x="618" y="328" width="1" height="65" fill="#F23645"/><rect x="617" y="330" width="3" height="61" fill="#F23645"/><rect x="622" y="380" width="1" height="12" fill="#089981"/><rect x="621" y="381" width="3" height="10" fill="#089981"/><rect x="626" y="378" width="1" height="4" fill="#089981"/><rect x="625" y="380" width="3" height="1" fill="#089981"/><rect x="630" y="379" width="1" height="41" fill="#F23645"/><rect x="629" y="380" width="3" height="26" fill="#F23645"/><rect x="634" y="368" width="1" height="56" fill="#089981"/><rect x="633" y="392" width="3" height="14" fill="#089981"/><rect x="638" y="391" width="1" height="7" fill="#F23645"/><rect x="637" y="392" width="3" height="2" fill="#F23645"/><rect x="642" y="382" width="1" height="13" fill="#089981"/><rect x="641" y="384" width="3" height="10" fill="#089981"/><rect x="646" y="381" width="1" height="51" fill="#F23645"/><rect x="645" y="384" width="3" height="34" fill="#F23645"/><rect x="651" y="417" width="1" height="17" fill="#F23645"/><rect x="650" y="418" width="3" height="2" fill="#F23645"/><rect x="655" y="417" width="1" height="6" fill="#089981"/><rect x="654" y="418" width="3" height="2" fill="#089981"/><rect x="659" y="405" width="1" height="15" fill="#089981"/><rect x="658" y="408" width="3" height="10" fill="#089981"/><rect x="663" y="399" width="1" height="10" fill="#089981"/><rect x="662" y="402" width="3" height="6" fill="#089981"/><rect x="667" y="392" width="1" height="12" fill="#089981"/><rect x="666" y="394" width="3" height="8" fill="#089981"/><rect x="671" y="393" width="1" height="13" fill="#F23645"/><rect x="670" y="394" width="3" height="10" fill="#F23645"/><rect x="675" y="403" width="1" height="15" fill="#F23645"/><rect x="674" y="404" width="3" height="12" fill="#F23645"/><rect x="679" y="412" width="1" height="12" fill="#F23645"/><rect x="678" y="416" width="3" height="4" fill="#F23645"/><rect x="683" y="402" width="1" height="21" fill="#089981"/><rect x="682" y="403" width="3" height="17" fill="#089981"/><rect x="687" y="375" width="1" height="30" fill="#089981"/><rect x="686" y="378" width="3" height="25" fill="#089981"/><rect x="691" y="359" width="1" height="20" fill="#089981"/><rect x="690" y="360" width="3" height="18" fill="#089981"/><rect x="695" y="345" width="1" height="16" fill="#089981"/><rect x="694" y="347" width="3" height="13" fill="#089981"/><rect x="699" y="342" width="1" height="7" fill="#089981"/><rect x="698" y="342" width="3" height="5" fill="#089981"/><rect x="703" y="340" width="1" height="8" fill="#F23645"/><rect x="702" y="342" width="3" height="5" fill="#F23645"/><rect x="707" y="320" width="1" height="29" fill="#089981"/><rect x="706" y="321" width="3" height="26" fill="#089981"/><rect x="711" y="320" width="1" height="14" fill="#F23645"/><rect x="710" y="321" width="3" height="11" fill="#F23645"/><rect x="715" y="324" width="1" height="10" fill="#089981"/><rect x="714" y="326" width="3" height="6" fill="#089981"/><rect x="719" y="287" width="1" height="43" fill="#089981"/><rect x="718" y="298" width="3" height="28" fill="#089981"/><rect x="723" y="286" width="1" height="16" fill="#089981"/><rect x="722" y="290" width="3" height="8" fill="#089981"/><rect x="727" y="276" width="1" height="14" fill="#089981"/><rect x="726" y="278" width="3" height="12" fill="#089981"/><rect x="731" y="257" width="1" height="24" fill="#089981"/><rect x="730" y="258" width="3" height="20" fill="#089981"/><rect x="735" y="257" width="1" height="21" fill="#F23645"/><rect x="734" y="258" width="3" height="5" fill="#F23645"/><rect x="739" y="244" width="1" height="20" fill="#089981"/><rect x="738" y="261" width="3" height="2" fill="#089981"/><rect x="744" y="242" width="1" height="20" fill="#089981"/><rect x="743" y="244" width="3" height="17" fill="#089981"/><rect x="748" y="242" width="1" height="9" fill="#F23645"/><rect x="747" y="244" width="3" height="6" fill="#F23645"/><rect x="752" y="243" width="1" height="8" fill="#089981"/><rect x="751" y="245" width="3" height="5" fill="#089981"/><rect x="756" y="241" width="1" height="14" fill="#F23645"/><rect x="755" y="245" width="3" height="10" fill="#F23645"/><rect x="760" y="246" width="1" height="12" fill="#089981"/><rect x="759" y="248" width="3" height="7" fill="#089981"/><rect x="764" y="246" width="1" height="7" fill="#F23645"/><rect x="763" y="248" width="3" height="4" fill="#F23645"/><rect x="768" y="251" width="1" height="9" fill="#F23645"/><rect x="767" y="252" width="3" height="7" fill="#F23645"/><rect x="772" y="258" width="1" height="14" fill="#F23645"/><rect x="771" y="259" width="3" height="13" fill="#F23645"/><rect x="776" y="260" width="1" height="12" fill="#089981"/><rect x="775" y="262" width="3" height="10" fill="#089981"/><rect x="780" y="261" width="1" height="3" fill="#089981"/><rect x="779" y="262" width="3" height="1" fill="#089981"/><rect x="784" y="250" width="1" height="14" fill="#089981"/><rect x="783" y="252" width="3" height="10" fill="#089981"/><rect x="788" y="250" width="1" height="5" fill="#F23645"/><rect x="787" y="252" width="3" height="1" fill="#F23645"/><rect x="792" y="249" width="1" height="8" fill="#F23645"/><rect x="791" y="253" width="3" height="3" fill="#F23645"/><rect x="796" y="254" width="1" height="6" fill="#089981"/><rect x="795" y="256" width="3" height="1" fill="#089981"/><rect x="800" y="249" width="1" height="9" fill="#089981"/><rect x="799" y="250" width="3" height="6" fill="#089981"/><rect x="804" y="234" width="1" height="16" fill="#089981"/><rect x="803" y="235" width="3" height="15" fill="#089981"/><rect x="808" y="214" width="1" height="22" fill="#089981"/><rect x="807" y="215" width="3" height="20" fill="#089981"/><rect x="812" y="198" width="1" height="25" fill="#089981"/><rect x="811" y="202" width="3" height="13" fill="#089981"/><rect x="816" y="191" width="1" height="18" fill="#089981"/><rect x="815" y="198" width="3" height="4" fill="#089981"/><rect x="820" y="181" width="1" height="21" fill="#089981"/><rect x="819" y="184" width="3" height="14" fill="#089981"/><rect x="824" y="175" width="1" height="11" fill="#089981"/><rect x="823" y="178" width="3" height="6" fill="#089981"/><rect x="828" y="163" width="1" height="17" fill="#089981"/><rect x="827" y="168" width="3" height="10" fill="#089981"/><rect x="832" y="165" width="1" height="24" fill="#F23645"/><rect x="831" y="168" width="3" height="6" fill="#F23645"/><rect x="836" y="173" width="1" height="18" fill="#F23645"/><rect x="835" y="174" width="3" height="14" fill="#F23645"/><rect x="841" y="182" width="1" height="6" fill="#089981"/><rect x="840" y="184" width="3" height="4" fill="#089981"/><rect x="845" y="174" width="1" height="39" fill="#F23645"/><rect x="844" y="184" width="3" height="21" fill="#F23645"/><rect x="849" y="187" width="1" height="20" fill="#089981"/><rect x="848" y="188" width="3" height="17" fill="#089981"/><rect x="853" y="181" width="1" height="8" fill="#089981"/><rect x="852" y="184" width="3" height="4" fill="#089981"/><rect x="857" y="170" width="1" height="15" fill="#089981"/><rect x="856" y="171" width="3" height="13" fill="#089981"/><rect x="861" y="143" width="1" height="30" fill="#089981"/><rect x="860" y="146" width="3" height="25" fill="#089981"/><rect x="865" y="143" width="1" height="5" fill="#089981"/><rect x="864" y="144" width="3" height="2" fill="#089981"/><rect x="869" y="132" width="1" height="16" fill="#089981"/><rect x="868" y="132" width="3" height="12" fill="#089981"/><rect x="873" y="118" width="1" height="15" fill="#089981"/><rect x="872" y="119" width="3" height="13" fill="#089981"/><rect x="877" y="116" width="1" height="7" fill="#089981"/><rect x="876" y="118" width="3" height="1" fill="#089981"/><rect x="881" y="112" width="1" height="8" fill="#089981"/><rect x="880" y="112" width="3" height="6" fill="#089981"/><rect x="885" y="71" width="1" height="43" fill="#089981"/><rect x="884" y="76" width="3" height="36" fill="#089981"/><rect x="889" y="67" width="1" height="27" fill="#F23645"/><rect x="888" y="76" width="3" height="14" fill="#F23645"/><rect x="893" y="86" width="1" height="20" fill="#F23645"/><rect x="892" y="90" width="3" height="8" fill="#F23645"/><rect x="897" y="91" width="1" height="38" fill="#F23645"/><rect x="896" y="98" width="3" height="26" fill="#F23645"/><rect x="901" y="121" width="1" height="35" fill="#F23645"/><rect x="900" y="124" width="3" height="29" fill="#F23645"/><rect x="905" y="147" width="1" height="47" fill="#F23645"/><rect x="904" y="153" width="3" height="26" fill="#F23645"/><rect x="909" y="144" width="1" height="39" fill="#089981"/><rect x="908" y="176" width="3" height="3" fill="#089981"/><rect x="913" y="169" width="1" height="39" fill="#F23645"/><rect x="912" y="176" width="3" height="15" fill="#F23645"/><rect x="917" y="175" width="1" height="24" fill="#089981"/><rect x="916" y="186" width="3" height="5" fill="#089981"/><rect x="921" y="180" width="1" height="50" fill="#F23645"/><rect x="920" y="186" width="3" height="31" fill="#F23645"/><rect x="925" y="199" width="1" height="19" fill="#089981"/><rect x="924" y="207" width="3" height="10" fill="#089981"/><rect x="929" y="188" width="1" height="19" fill="#089981"/><rect x="928" y="191" width="3" height="16" fill="#089981"/><rect x="934" y="157" width="1" height="37" fill="#089981"/><rect x="933" y="184" width="3" height="7" fill="#089981"/><rect x="938" y="176" width="1" height="17" fill="#089981"/><rect x="937" y="180" width="3" height="4" fill="#089981"/><rect x="942" y="176" width="1" height="5" fill="#089981"/><rect x="941" y="178" width="3" height="2" fill="#089981"/><rect x="946" y="172" width="1" height="26" fill="#F23645"/><rect x="945" y="178" width="3" height="6" fill="#F23645"/><rect x="950" y="172" width="1" height="16" fill="#089981"/><rect x="949" y="174" width="3" height="10" fill="#089981"/><rect x="954" y="155" width="1" height="23" fill="#089981"/><rect x="953" y="170" width="3" height="4" fill="#089981"/><rect x="958" y="160" width="1" height="28" fill="#F23645"/><rect x="957" y="170" width="3" height="17" fill="#F23645"/><rect x="962" y="184" width="1" height="26" fill="#F23645"/><rect x="961" y="187" width="3" height="11" fill="#F23645"/><rect x="966" y="197" width="1" height="11" fill="#F23645"/><rect x="965" y="198" width="3" height="9" fill="#F23645"/><rect x="970" y="202" width="1" height="18" fill="#F23645"/><rect x="969" y="207" width="3" height="7" fill="#F23645"/><rect x="974" y="198" width="1" height="17" fill="#089981"/><rect x="973" y="199" width="3" height="15" fill="#089981"/><rect x="978" y="187" width="1" height="13" fill="#089981"/><rect x="977" y="189" width="3" height="10" fill="#089981"/><rect x="982" y="178" width="1" height="27" fill="#F23645"/><rect x="981" y="189" width="3" height="12" fill="#F23645"/><rect x="986" y="192" width="1" height="31" fill="#F23645"/><rect x="985" y="201" width="3" height="8" fill="#F23645"/><rect x="990" y="202" width="1" height="15" fill="#F23645"/><rect x="989" y="209" width="3" height="2" fill="#F23645"/><rect x="994" y="204" width="1" height="16" fill="#089981"/><rect x="993" y="207" width="3" height="4" fill="#089981"/><rect x="998" y="178" width="1" height="33" fill="#089981"/><rect x="997" y="186" width="3" height="21" fill="#089981"/><rect x="1002" y="167" width="1" height="20" fill="#089981"/><rect x="1001" y="168" width="3" height="18" fill="#089981"/><rect x="1006" y="164" width="1" height="15" fill="#F23645"/><rect x="1005" y="168" width="3" height="9" fill="#F23645"/><rect x="1010" y="176" width="1" height="18" fill="#F23645"/><rect x="1009" y="177" width="3" height="15" fill="#F23645"/><rect x="1014" y="186" width="1" height="7" fill="#089981"/><rect x="1013" y="187" width="3" height="5" fill="#089981"/><rect x="1018" y="186" width="1" height="14" fill="#F23645"/><rect x="1017" y="187" width="3" height="9" fill="#F23645"/><rect x="1022" y="188" width="1" height="11" fill="#089981"/><rect x="1021" y="192" width="3" height="4" fill="#089981"/><rect x="1027" y="188" width="1" height="8" fill="#089981"/><rect x="1026" y="189" width="3" height="3" fill="#089981"/><rect x="1031" y="187" width="1" height="7" fill="#F23645"/><rect x="1030" y="189" width="3" height="4" fill="#F23645"/><rect x="1035" y="192" width="1" height="8" fill="#F23645"/><rect x="1034" y="193" width="3" height="7" fill="#F23645"/><rect x="1039" y="196" width="1" height="6" fill="#089981"/><rect x="1038" y="197" width="3" height="3" fill="#089981"/><rect x="1043" y="195" width="1" height="30" fill="#F23645"/><rect x="1042" y="197" width="3" height="25" fill="#F23645"/><rect x="1047" y="196" width="1" height="26" fill="#089981"/><rect x="1046" y="197" width="3" height="25" fill="#089981"/><rect x="1051" y="193" width="1" height="13" fill="#F23645"/><rect x="1050" y="197" width="3" height="9" fill="#F23645"/><rect x="1055" y="202" width="1" height="22" fill="#F23645"/><rect x="1054" y="206" width="3" height="16" fill="#F23645"/><rect x="1059" y="221" width="1" height="35" fill="#F23645"/><rect x="1058" y="222" width="3" height="28" fill="#F23645"/><rect x="1063" y="245" width="1" height="7" fill="#089981"/><rect x="1062" y="249" width="3" height="1" fill="#089981"/><rect x="1067" y="247" width="1" height="23" fill="#F23645"/><rect x="1066" y="249" width="3" height="17" fill="#F23645"/><rect x="1071" y="255" width="1" height="15" fill="#089981"/><rect x="1070" y="259" width="3" height="7" fill="#089981"/><rect x="1075" y="250" width="1" height="10" fill="#089981"/><rect x="1074" y="251" width="3" height="8" fill="#089981"/><rect x="1079" y="243" width="1" height="9" fill="#089981"/><rect x="1078" y="245" width="3" height="6" fill="#089981"/><rect x="1083" y="228" width="1" height="18" fill="#089981"/><rect x="1082" y="232" width="3" height="13" fill="#089981"/><rect x="1087" y="228" width="1" height="8" fill="#089981"/><rect x="1086" y="230" width="3" height="2" fill="#089981"/><rect x="1091" y="226" width="1" height="8" fill="#089981"/><rect x="1090" y="227" width="3" height="3" fill="#089981"/><rect x="1095" y="225" width="1" height="27" fill="#F23645"/><rect x="1094" y="227" width="3" height="22" fill="#F23645"/><rect x="1099" y="244" width="1" height="6" fill="#089981"/><rect x="1098" y="245" width="3" height="4" fill="#089981"/><rect x="1103" y="241" width="1" height="5" fill="#089981"/><rect x="1102" y="242" width="3" height="3" fill="#089981"/><rect x="1107" y="238" width="1" height="6" fill="#089981"/><rect x="1106" y="239" width="3" height="3" fill="#089981"/><rect x="1111" y="231" width="1" height="9" fill="#089981"/><rect x="1110" y="234" width="3" height="5" fill="#089981"/><rect x="1115" y="224" width="1" height="10" fill="#089981"/><rect x="1114" y="226" width="3" height="8" fill="#089981"/><rect x="1120" y="188" width="1" height="40" fill="#089981"/><rect x="1119" y="191" width="3" height="35" fill="#089981"/><rect x="1124" y="187" width="1" height="13" fill="#F23645"/><rect x="1123" y="191" width="3" height="5" fill="#F23645"/><rect x="1128" y="180" width="1" height="16" fill="#089981"/><rect x="1127" y="183" width="3" height="13" fill="#089981"/><rect x="1132" y="180" width="1" height="4" fill="#089981"/><rect x="1131" y="181" width="3" height="2" fill="#089981"/><rect x="1136" y="158" width="1" height="27" fill="#089981"/><rect x="1135" y="162" width="3" height="19" fill="#089981"/><rect x="1140" y="151" width="1" height="13" fill="#089981"/><rect x="1139" y="154" width="3" height="8" fill="#089981"/><rect x="1144" y="148" width="1" height="9" fill="#089981"/><rect x="1143" y="149" width="3" height="5" fill="#089981"/><rect x="1148" y="135" width="1" height="17" fill="#089981"/><rect x="1147" y="138" width="3" height="11" fill="#089981"/><rect x="1152" y="116" width="1" height="23" fill="#089981"/><rect x="1151" y="119" width="3" height="19" fill="#089981"/><rect x="1156" y="108" width="1" height="43" fill="#F23645"/><rect x="1155" y="119" width="3" height="15" fill="#F23645"/><rect x="1160" y="132" width="1" height="30" fill="#F23645"/><rect x="1159" y="134" width="3" height="19" fill="#F23645"/><rect x="1164" y="140" width="1" height="14" fill="#089981"/><rect x="1163" y="143" width="3" height="10" fill="#089981"/><rect x="1168" y="140" width="1" height="16" fill="#F23645"/><rect x="1167" y="143" width="3" height="2" fill="#F23645"/><rect x="1172" y="136" width="1" height="15" fill="#F23645"/><rect x="1171" y="145" width="3" height="1" fill="#F23645"/><rect x="1176" y="136" width="1" height="24" fill="#F23645"/><rect x="1175" y="146" width="3" height="9" fill="#F23645"/><rect x="1180" y="147" width="1" height="11" fill="#089981"/><rect x="1179" y="150" width="3" height="5" fill="#089981"/><rect x="1184" y="125" width="1" height="27" fill="#089981"/><rect x="1183" y="137" width="3" height="13" fill="#089981"/><rect x="1188" y="135" width="1" height="54" fill="#F23645"/><rect x="1187" y="137" width="3" height="39" fill="#F23645"/><rect x="1192" y="172" width="1" height="6" fill="#089981"/><rect x="1191" y="173" width="3" height="3" fill="#089981"/><rect x="1196" y="156" width="1" height="29" fill="#F23645"/><rect x="1195" y="173" width="3" height="10" fill="#F23645"/><rect x="1200" y="181" width="1" height="29" fill="#F23645"/><rect x="1199" y="183" width="3" height="17" fill="#F23645"/><rect x="1204" y="190" width="1" height="12" fill="#089981"/><rect x="1203" y="192" width="3" height="8" fill="#089981"/><rect x="1208" y="187" width="1" height="33" fill="#F23645"/><rect x="1207" y="192" width="3" height="6" fill="#F23645"/><rect x="1213" y="180" width="1" height="20" fill="#089981"/><rect x="1212" y="182" width="3" height="16" fill="#089981"/><rect x="1217" y="176" width="1" height="6" fill="#089981"/><rect x="1216" y="179" width="3" height="3" fill="#089981"/><rect x="1221" y="160" width="1" height="29" fill="#089981"/><rect x="1220" y="172" width="3" height="7" fill="#089981"/><rect x="1225" y="171" width="1" height="13" fill="#F23645"/><rect x="1224" y="172" width="3" height="11" fill="#F23645"/><rect x="1229" y="180" width="1" height="10" fill="#F23645"/><rect x="1228" y="183" width="3" height="3" fill="#F23645"/><rect x="1233" y="185" width="1" height="50" fill="#F23645"/><rect x="1232" y="186" width="3" height="25" fill="#F23645"/><rect x="1237" y="209" width="1" height="21" fill="#F23645"/><rect x="1236" y="211" width="3" height="4" fill="#F23645"/><rect x="1241" y="214" width="1" height="44" fill="#F23645"/><rect x="1240" y="215" width="3" height="40" fill="#F23645"/><rect x="1245" y="248" width="1" height="10" fill="#089981"/><rect x="1244" y="252" width="3" height="3" fill="#089981"/><rect x="1249" y="242" width="1" height="12" fill="#089981"/><rect x="1248" y="244" width="3" height="8" fill="#089981"/><rect x="1253" y="242" width="1" height="9" fill="#F23645"/><rect x="1252" y="244" width="3" height="5" fill="#F23645"/><rect x="1257" y="243" width="1" height="9" fill="#089981"/><rect x="1256" y="245" width="3" height="4" fill="#089981"/><rect x="1261" y="244" width="1" height="4" fill="#F23645"/><rect x="1260" y="245" width="3" height="1" fill="#F23645"/><rect x="1265" y="226" width="1" height="22" fill="#089981"/><rect x="1264" y="230" width="3" height="16" fill="#089981"/><rect x="1269" y="229" width="1" height="10" fill="#F23645"/><rect x="1268" y="230" width="3" height="8" fill="#F23645"/><rect x="1273" y="232" width="1" height="7" fill="#089981"/><rect x="1272" y="233" width="3" height="5" fill="#089981"/><rect x="1277" y="232" width="1" height="10" fill="#F23645"/><rect x="1276" y="233" width="3" height="5" fill="#F23645"/><rect x="1281" y="232" width="1" height="10" fill="#089981"/><rect x="1280" y="233" width="3" height="5" fill="#089981"/><rect x="1285" y="230" width="1" height="25" fill="#F23645"/><rect x="1284" y="233" width="3" height="18" fill="#F23645"/><rect x="1289" y="241" width="1" height="11" fill="#089981"/><rect x="1288" y="244" width="3" height="7" fill="#089981"/><rect x="1293" y="243" width="1" height="16" fill="#F23645"/><rect x="1292" y="244" width="3" height="14" fill="#F23645"/><rect x="1297" y="257" width="1" height="30" fill="#F23645"/><rect x="1296" y="258" width="3" height="25" fill="#F23645"/><rect x="1301" y="276" width="1" height="16" fill="#F23645"/><rect x="1300" y="283" width="3" height="1" fill="#F23645"/><rect x="1306" y="278" width="1" height="7" fill="#089981"/><rect x="1305" y="280" width="3" height="4" fill="#089981"/><rect x="1310" y="275" width="1" height="31" fill="#F23645"/><rect x="1309" y="280" width="3" height="24" fill="#F23645"/><rect x="1314" y="303" width="1" height="19" fill="#F23645"/><rect x="1313" y="304" width="3" height="5" fill="#F23645"/><rect x="1318" y="281" width="1" height="31" fill="#089981"/><rect x="1317" y="284" width="3" height="25" fill="#089981"/><rect x="1322" y="267" width="1" height="19" fill="#089981"/><rect x="1321" y="270" width="3" height="14" fill="#089981"/>
<line x1="13" y1="270.5" x2="1568" y2="270.5" stroke="#089981" stroke-width="1" stroke-dasharray="1.2 1.9"/>
</g>
<polyline points="1324.7,266.7 1329.3,260.0 1342.0,287.3 1354.0,242.7 1366.0,261.3 1378.0,214.7 1390.0,239.3 1426.5,149.0" fill="none" stroke="#CDA3AD" stroke-width="2.6" stroke-linejoin="miter"/>
<polyline points="1411,156 1426.5,149 1433.5,166" fill="none" stroke="#CDA3AD" stroke-width="2.6" stroke-linejoin="round" stroke-linecap="round"/>
<g clip-path="url(#mp)"><g stroke="#F23645" stroke-width="5" fill="none" stroke-linecap="round" stroke-linejoin="round"><line x1="896.8" y1="10" x2="896.8" y2="38"/><polyline points="884.3,25.5 896.8,38 909.3,25.5"/></g></g>
<g stroke="#F23645" stroke-width="5" fill="none" stroke-linecap="round" stroke-linejoin="round"><line x1="1160" y1="51.5" x2="1160" y2="76.3"/><polyline points="1148,64.3 1160,76.3 1172,64.3"/></g>
<g stroke="#2962FF" stroke-width="5" fill="none" stroke-linecap="round" stroke-linejoin="round"><line x1="1066.7" y1="297" x2="1066.7" y2="321.5"/><polyline points="1055.2,308.5 1066.7,297 1078.2,308.5"/></g>
<g stroke="#2962FF" stroke-width="5" fill="none" stroke-linecap="round" stroke-linejoin="round"><line x1="1313.3" y1="346" x2="1313.3" y2="372.5"/><polyline points="1300.5,358.8 1313.3,346 1326.1,358.8"/></g>
<clipPath id="co1"><path d="M519,443 L806.2,443 L1026.4,250.8 L828.2,443 L1114,443 A10,10 0 0 1 1124,453 L1124,476 A10,10 0 0 1 1114,486 L519,486 A10,10 0 0 1 509,476 L509,453 A10,10 0 0 1 519,443 Z"/></clipPath><path d="M519,443 L806.2,443 L1026.4,250.8 L828.2,443 L1114,443 A10,10 0 0 1 1124,453 L1124,476 A10,10 0 0 1 1114,486 L519,486 A10,10 0 0 1 509,476 L509,453 A10,10 0 0 1 519,443 Z" fill="#FAA82E" stroke="#00BCD4" stroke-width="2" stroke-linejoin="miter"/><path d="M519,443 L806.2,443 L1026.4,250.8 L828.2,443 L1114,443 A10,10 0 0 1 1124,453 L1124,476 A10,10 0 0 1 1114,486 L519,486 A10,10 0 0 1 509,476 L509,453 A10,10 0 0 1 519,443 Z" fill="none" stroke="#D9A13A" stroke-width="2" clip-path="url(#co1)"/>
<text x="521.50" y="468.8" font-size="18.2" font-weight="bold" fill="#000" textLength="589.87" lengthAdjust="spacingAndGlyphs">Gold attracted buyers on dips at 3120 as recovery rally extends to 3207</text>
<clipPath id="co2"><path d="M1338,433 L1411.5,433 L1333.6,304.5 L1432.2,433 L1508,433 A10,10 0 0 1 1518,443 L1518,466 A10,10 0 0 1 1508,476 L1338,476 A10,10 0 0 1 1328,466 L1328,443 A10,10 0 0 1 1338,433 Z"/></clipPath><path d="M1338,433 L1411.5,433 L1333.6,304.5 L1432.2,433 L1508,433 A10,10 0 0 1 1518,443 L1518,466 A10,10 0 0 1 1508,476 L1338,476 A10,10 0 0 1 1328,466 L1328,443 A10,10 0 0 1 1338,433 Z" fill="#3AAA97" stroke="#00BCD4" stroke-width="2" stroke-linejoin="miter"/><path d="M1338,433 L1411.5,433 L1333.6,304.5 L1432.2,433 L1508,433 A10,10 0 0 1 1518,443 L1518,466 A10,10 0 0 1 1508,476 L1338,476 A10,10 0 0 1 1328,466 L1328,443 A10,10 0 0 1 1338,433 Z" fill="none" stroke="#0C9B89" stroke-width="2" clip-path="url(#co2)"/>
<text x="1340.47" y="458.8" font-size="18.2" font-weight="bold" fill="#000" textLength="164.46" lengthAdjust="spacingAndGlyphs">Support: 3180-3160</text>
<clipPath id="co3"><path d="M1340,72 L1530,72 A11,11 0 0 1 1541,83 L1541,104 A11,11 0 0 1 1530,115 L1445,115 L1345.7,211.6 L1423,115 L1340,115 A11,11 0 0 1 1329,104 L1329,83 A11,11 0 0 1 1340,72 Z"/></clipPath><path d="M1340,72 L1530,72 A11,11 0 0 1 1541,83 L1541,104 A11,11 0 0 1 1530,115 L1445,115 L1345.7,211.6 L1423,115 L1340,115 A11,11 0 0 1 1329,104 L1329,83 A11,11 0 0 1 1340,72 Z" fill="#F45A68" stroke="#E8184F" stroke-width="2" stroke-linejoin="miter"/><path d="M1340,72 L1530,72 A11,11 0 0 1 1541,83 L1541,104 A11,11 0 0 1 1530,115 L1445,115 L1345.7,211.6 L1423,115 L1340,115 A11,11 0 0 1 1329,104 L1329,83 A11,11 0 0 1 1340,72 Z" fill="none" stroke="#F0304A" stroke-width="2" clip-path="url(#co3)"/>
<text x="1341.65" y="97.8" font-size="18.2" font-weight="bold" fill="#000" textLength="187.03" lengthAdjust="spacingAndGlyphs">Resistance: 3234-3260</text>
<text x="911.75" y="109.8" font-size="19.6" fill="#000" textLength="237.21" lengthAdjust="spacingAndGlyphs">Broad Descending Channel</text>
<g clip-path="url(#rp)">
<rect x="13" y="569" width="1555" height="20" fill="#7E57C2" fill-opacity="0.1"/>
<line x1="13" y1="569.5" x2="1568" y2="569.5" stroke="#787B86" stroke-width="1" stroke-dasharray="5 6"/>
<line x1="13" y1="579.5" x2="1568" y2="579.5" stroke="#787B86" stroke-width="1" stroke-dasharray="5 6"/>
<line x1="13" y1="589.5" x2="1568" y2="589.5" stroke="#787B86" stroke-width="1" stroke-dasharray="5 6"/>
<polyline points="13.6,584.0 19.0,578.3 30.4,574.5 50.7,574.5 73.5,574.5 83.7,577.0 101.4,578.3 119.2,578.3 129.3,576.3 142.0,579.6 149.6,585.4 153.4,585.4 157.2,580.9 167.4,575.3 177.5,576.3 190.2,575.8 194.0,572.0 203.0,568.7 209.2,573.3 218.1,565.6 228.3,564.4 238.4,566.2 243.5,568.9 253.6,568.2 261.2,570.0 266.3,567.4 277.7,566.9 286.6,564.4 296.7,562.6 303.0,563.6 314.5,563.6 319.6,566.9 324.6,564.6 331.0,564.9 339.8,572.0 344.9,570.0 352.5,569.5 356.3,575.3 360.1,575.3 366.5,581.6 372.8,579.1 380.4,578.8 388.0,579.6 393.1,578.8 399.4,582.6 405.8,580.9 415.0,578.3 422.7,579.1 432.8,579.6 436.6,575.3 441.7,576.6 445.5,580.4 450.6,579.1 458.2,574.5 464.5,569.7 470.9,570.7 477.2,569.7 482.3,566.4 488.6,567.2 493.7,566.7 498.8,568.2 505.1,566.4 512.7,562.6 520.3,566.7 525.4,565.7 529.2,566.9 533.0,563.9 536.8,569.7 541.9,569.7 545.7,573.5 552.0,573.3 557.1,572.2 562.2,572.2 567.2,573.3 572.3,572.8 577.4,567.2 582.5,572.8 588.8,581.1 595.1,578.6 600.2,578.8 607.8,581.1 614.2,578.6 618.0,588.0 623.0,585.9 630.6,588.7 635.7,584.9 640.8,584.2 645.9,586.7 652.2,588.7 658.5,585.4 666.1,582.4 672.5,584.9 678.8,585.9 686.4,577.8 694.0,574.0 701.7,573.3 705.5,571.5 709.3,572.8 714.3,571.5 718.1,569.7 724.5,568.2 732.1,566.4 737.2,566.7 742.2,565.7 747.3,567.2 752.4,566.7 754.9,569.0 762.5,569.0 767.6,570.2 771.4,573.5 777.7,572.8 784.1,571.5 790.4,572.8 798.0,571.5 805.6,569.0 813.2,565.7 820.8,564.4 827.2,563.1 832.6,565.7 837.7,568.4 841.5,569.0 844.8,573.3 849.1,571.5 854.2,570.2 860.5,566.9 865.6,566.4 873.2,564.6 878.3,564.4 884.6,561.3 892.2,566.4 901.1,577.8 906.2,579.9 912.5,581.1 917.6,581.6 922.6,584.7 930.2,580.9 937.9,579.6 944.2,579.6 951.8,578.3 959.4,581.6 968.3,584.7 977.2,579.9 984.8,582.4 993.7,581.6 1001.3,575.3 1007.6,577.8 1013.9,579.1 1019.0,580.4 1026.6,579.1 1035.5,580.4 1039.3,581.1 1043.1,584.7 1046.9,579.6 1052.0,581.1 1059.6,586.2 1065.9,588.0 1076.1,584.9 1083.7,581.6 1090.0,580.9 1096.4,583.7 1104.0,581.6 1114.1,579.1 1119.2,573.5 1124.3,572.8 1129.3,571.5 1135.7,569.0 1142.0,567.2 1147.1,566.9 1152.2,565.1 1158.5,572.2 1164.8,571.5 1169.9,572.0 1176.3,574.0 1180.1,573.5 1183.9,572.0 1187.7,579.1 1192.7,579.6 1200.4,582.9 1205.4,581.6 1210.5,582.1 1215.6,579.9 1220.6,578.3 1225.7,579.9 1230.8,580.9 1235.9,584.7 1240.9,588.7 1248.7,586.7 1258.8,586.7 1265.2,582.9 1271.5,583.4 1280.4,582.9 1285.5,585.4 1289.3,584.7 1296.9,589.0 1304.5,588.5 1309.5,591.0 1313.4,591.5 1322.2,582.1" fill="none" stroke="#50535E" stroke-width="1.1" stroke-linejoin="round"/>
</g>
<text x="22.72" y="583" font-size="14.5" fill="#363A45" textLength="50.44" lengthAdjust="spacingAndGlyphs">RSI (14)</text>
<text x="82.20" y="583" font-size="14.5" fill="#363A45" textLength="36.97" lengthAdjust="spacingAndGlyphs">42.75</text>
<line x1="13" y1="557.5" x2="1643" y2="557.5" stroke="#DFE2EA" stroke-width="1"/>
<rect x="13" y="13" width="1630" height="618" fill="none" stroke="#ECEDF1" stroke-width="2"/>
<text x="1577.81" y="72.9" font-size="15.3" fill="#131722" textLength="53.19" lengthAdjust="spacingAndGlyphs">3500.00</text>
<text x="1577.81" y="140.5" font-size="15.3" fill="#131722" textLength="53.19" lengthAdjust="spacingAndGlyphs">3400.00</text>
<text x="1577.81" y="208.2" font-size="15.3" fill="#131722" textLength="53.19" lengthAdjust="spacingAndGlyphs">3300.00</text>
<text x="1577.81" y="342.9" font-size="15.3" fill="#131722" textLength="53.19" lengthAdjust="spacingAndGlyphs">3100.00</text>
<text x="1577.81" y="410.6" font-size="15.3" fill="#131722" textLength="53.19" lengthAdjust="spacingAndGlyphs">3000.00</text>
<text x="1577.66" y="478.3" font-size="15.3" fill="#131722" textLength="53.35" lengthAdjust="spacingAndGlyphs">2900.00</text>
<text x="1577.66" y="545.9" font-size="15.3" fill="#131722" textLength="53.35" lengthAdjust="spacingAndGlyphs">2800.00</text>
<path d="M1568,260 H1636 a2,2 0 0 1 2,2 V279 a2,2 0 0 1 -2,2 H1568 Z" fill="#089981"/>
<text x="1577.61" y="276" font-size="14.5" fill="#fff" textLength="53.60" lengthAdjust="spacingAndGlyphs">3201.00</text>
<text x="100.5" y="618.7" font-size="15" fill="#131722" text-anchor="middle">7</text>
<text x="202.5" y="618.7" font-size="15" fill="#131722" text-anchor="middle">13</text>
<text x="303.5" y="618.7" font-size="15" fill="#131722" text-anchor="middle">19</text>
<text x="404.5" y="618.7" font-size="15" fill="#131722" text-anchor="middle">25</text>
<text x="529.5" y="618.7" font-size="15" font-weight="bold" fill="#131722" text-anchor="middle">Apr</text>
<text x="630.5" y="618.7" font-size="15" fill="#131722" text-anchor="middle">7</text>
<text x="751.5" y="618.7" font-size="15" fill="#131722" text-anchor="middle">12</text>
<text x="853.5" y="618.7" font-size="15" fill="#131722" text-anchor="middle">18</text>
<text x="954.5" y="618.7" font-size="15" fill="#131722" text-anchor="middle">25</text>
<text x="1055.5" y="618.7" font-size="15" font-weight="bold" fill="#131722" text-anchor="middle">May</text>
<text x="1156.5" y="618.7" font-size="15" fill="#131722" text-anchor="middle">7</text>
<text x="1257.5" y="618.7" font-size="15" fill="#131722" text-anchor="middle">13</text>
<text x="1378.5" y="618.7" font-size="15" fill="#131722" text-anchor="middle">18</text>
<text x="1499.5" y="618.7" font-size="15" fill="#131722" text-anchor="middle">23</text>
<text x="22.67" y="37.8" font-size="14.5" fill="#131722" textLength="281.28" lengthAdjust="spacingAndGlyphs">Gold US Dollars per Ounce Spot Prices, 4h</text>
<text x="312.14" y="37.8" font-size="14.5" fill="#131722" textLength="10.82" lengthAdjust="spacingAndGlyphs">O</text>
<text x="322.92" y="37.8" font-size="14.5" fill="#089981" textLength="52.63" lengthAdjust="spacingAndGlyphs">3179.12</text>
<text x="383.89" y="37.8" font-size="14.5" fill="#131722" textLength="10.96" lengthAdjust="spacingAndGlyphs">H</text>
<text x="394.21" y="37.8" font-size="14.5" fill="#089981" textLength="51.82" lengthAdjust="spacingAndGlyphs">3207.11</text>
<text x="455.63" y="37.8" font-size="14.5" fill="#131722" textLength="8.16" lengthAdjust="spacingAndGlyphs">L</text>
<text x="463.41" y="37.8" font-size="14.5" fill="#089981" textLength="53.14" lengthAdjust="spacingAndGlyphs">3177.59</text>
<text x="524.97" y="37.8" font-size="14.5" fill="#131722" textLength="9.06" lengthAdjust="spacingAndGlyphs">C</text>
<text x="534.11" y="37.8" font-size="14.5" fill="#089981" textLength="52.99" lengthAdjust="spacingAndGlyphs">3201.00</text>
<text x="595.48" y="37.8" font-size="14.5" fill="#089981" textLength="107.28" lengthAdjust="spacingAndGlyphs">+21.74 (+0.68%)</text>
<text x="21.89" y="58.7" font-size="14.5" fill="#131722" textLength="121.39" lengthAdjust="spacingAndGlyphs">MA (100, close, 0)</text>
<text x="152.72" y="58.7" font-size="14.5" fill="#2196F3" textLength="52.53" lengthAdjust="spacingAndGlyphs">3292.42</text>
<text x="22.41" y="79.9" font-size="14.5" fill="#131722" textLength="187.34" lengthAdjust="spacingAndGlyphs">Ichimoku (9, 26, 52, 26, 26)</text>
<text x="218.00" y="79.9" font-size="14.5" fill="#2196F3" textLength="54.06" lengthAdjust="spacingAndGlyphs">3182.39</text>
<text x="280.41" y="79.9" font-size="14.5" fill="#801922" textLength="52.94" lengthAdjust="spacingAndGlyphs">3234.16</text>
<text x="21.89" y="100.6" font-size="14.5" fill="#131722" textLength="121.39" lengthAdjust="spacingAndGlyphs">MA (200, close, 0)</text>
<text x="152.73" y="100.6" font-size="14.5" fill="#000000" textLength="51.30" lengthAdjust="spacingAndGlyphs">3240.21</text>
<text x="22.62" y="121.4" font-size="14.5" fill="#131722" textLength="120.66" lengthAdjust="spacingAndGlyphs">EMA (50, close, 0)</text>
<text x="152.71" y="121.4" font-size="14.5" fill="#FF9800" textLength="53.14" lengthAdjust="spacingAndGlyphs">3259.76</text>
<g fill="#131722"><path d="M13,646.9 H23.2 V658.8 H17.4 V651.4 H13 Z"/><circle cx="27.2" cy="649.1" r="2.4"/><path d="M30.7,646.9 H37.2 L33.3,658.8 H27 Z"/></g>
<text x="41.68" y="658.8" font-size="15" fill="#131722" textLength="87.70" lengthAdjust="spacingAndGlyphs">TradingView</text>
</svg></body></html>
